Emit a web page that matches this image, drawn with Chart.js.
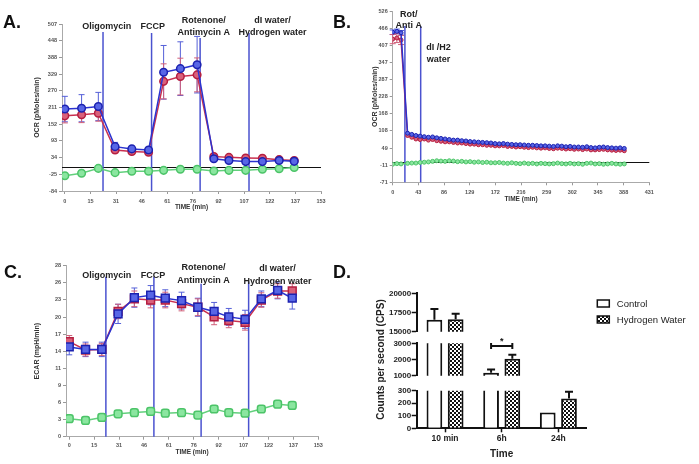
<!DOCTYPE html>
<html>
<head>
<meta charset="utf-8">
<title>OCR / ECAR and CPS</title>
<script src="https://cdn.jsdelivr.net/npm/chart.js@4.4.1/dist/chart.umd.min.js"></script>
<style>
  body { margin: 0; background: #fff; width: 699px; height: 464px; overflow: hidden; position: relative; }
  canvas { position: absolute; }
  .tag { position: absolute; z-index: 5; font: bold 18px "Liberation Sans", Arial, sans-serif; line-height: 18px; color: #111; }
</style>
</head>
<body>
<canvas id="chartA" width="340" height="215" style="left:0;top:0"></canvas>
<canvas id="chartB" width="359" height="215" style="left:340px;top:0"></canvas>
<canvas id="chartC" width="340" height="244" style="left:0;top:220px"></canvas>
<canvas id="chartDTop" width="359" height="194" style="left:340px;top:270px"></canvas>
<canvas id="chartDMid" width="359" height="194" style="left:340px;top:270px"></canvas>
<canvas id="chartDBot" width="359" height="194" style="left:340px;top:270px"></canvas>
<div class="tag" style="left:3px;top:13px">A.</div>
<div class="tag" style="left:333px;top:13px">B.</div>
<div class="tag" style="left:4px;top:263px">C.</div>
<div class="tag" style="left:333px;top:263px">D.</div>
<script>
// ------------ DATA ------------ //

// A. OCR, mito stress test
var timeA = [0, 10, 20, 30, 40, 50, 59, 69, 79, 89, 98, 108, 118, 128, 137];
var ocrBlueA = [206, 209, 215, 73, 65, 61, 336, 349, 363, 30, 24, 20, 20, 24, 21];
var ocrBlueErrA = [45, 48, 50, 15, 10, 8, 95, 95, 100, 6, 6, 6, 5, 5, 5];
var ocrRedA = [182, 186, 191, 61, 56, 53, 304, 321, 327, 38, 35, 33, 32, 27, 24];
var ocrRedErrA = [25, 28, 28, 10, 8, 8, 62, 65, 60, 6, 6, 6, 5, 5, 5];
var ocrGreenA = [-30, -21, -4, -19, -14, -14, -11, -7, -7, -13, -11, -11, -7, -5, -1];
var ocrGreenErrA = [4, 4, 4, 4, 4, 4, 4, 4, 4, 4, 4, 4, 4, 4, 4];
var xTicksA = [0, 15, 31, 46, 61, 76, 92, 107, 122, 137, 153];
var yTicksA = [-84, -25, 34, 93, 152, 211, 270, 329, 388, 448, 507];
var injTimesA = [22.8, 51.8, 80.8, 110];
var injTextA = [['Oligomycin'], ['FCCP'], ['Rotenone/', 'Antimycin A'], ['dI water/', 'Hydrogen water']];

// B. OCR, long run
var timeB = [0, 7, 14, 25, 32, 39, 46, 53, 60, 67, 74, 81, 88, 95, 102, 109, 116, 123, 130, 137,
  144, 151, 158, 165, 172, 179, 186, 193, 200, 207, 214, 221, 228, 235, 242, 249, 256, 263, 270, 277,
  284, 291, 298, 305, 312, 319, 326, 333, 340, 347, 354, 361, 368, 375, 382, 389];
var ocrBlueB = [452, 455, 450, 100, 96, 92, 90, 88, 86, 87, 84, 82, 80, 78, 76, 76, 74, 73, 71, 70,
  69, 68, 67, 66, 64, 63, 64, 62, 61, 60, 60, 59, 58, 58, 57, 56, 56, 55, 54, 56,
  55, 53, 54, 52, 52, 51, 53, 50, 49, 51, 52, 50, 49, 48, 49, 47];
var ocrRedB = [428, 432, 425, 92, 86, 80, 78, 80, 76, 78, 74, 72, 70, 70, 68, 66, 66, 64, 62, 62,
  60, 60, 58, 58, 56, 56, 57, 54, 54, 52, 53, 51, 50, 51, 49, 48, 49, 47, 46, 48,
  47, 45, 46, 44, 45, 43, 45, 42, 42, 43, 44, 42, 41, 40, 41, 39];
var ocrGreenB = [-8, -6, -7, -5, -4, -4, -2, -1, 0, 2, 4, 3, 2, 4, 3, 1, 2, 0, 1, -1,
  0, -2, -1, -3, -3, -2, -4, -5, -3, -5, -6, -4, -6, -5, -7, -5, -6, -7, -6, -4,
  -6, -7, -5, -7, -6, -8, -5, -4, -7, -6, -8, -7, -5, -7, -8, -7];
var ocrBlueErrB = [8, 8, 8];
var ocrRedErrB = [16, 16, 16];
var xTicksB = [0, 43, 86, 129, 172, 216, 259, 302, 345, 388, 431];
var yTicksB = [-71, -11, 49, 108, 168, 228, 287, 347, 407, 466, 526];
var injTimesB = [20.5, 47];
var injTextB = [['Rot/', 'Anti A'], ['dI /H2', 'water']];

// C. ECAR, same run as A
var ecarBlueC = [14.9, 14.5, 14.5, 20.4, 23.1, 23.5, 23.0, 22.6, 21.5, 20.8, 19.9, 19.5, 22.9, 24.3, 23.0];
var ecarBlueErrC = [1.3, 1.2, 1.2, 1.6, 1.6, 1.6, 1.4, 1.4, 1.5, 1.5, 1.4, 1.5, 1.3, 1.4, 1.8];
var ecarRedC = [15.8, 14.4, 14.5, 20.8, 22.9, 22.7, 22.7, 22.1, 21.5, 19.9, 19.3, 19.0, 22.7, 24.2, 24.2];
var ecarRedErrC = [1.0, 1.0, 1.0, 1.2, 1.3, 1.3, 1.3, 1.2, 1.4, 1.3, 1.2, 1.3, 1.2, 1.2, 1.2];
var ecarGreenC = [3.0, 2.7, 3.2, 3.8, 4.0, 4.2, 3.9, 4.0, 3.6, 4.6, 4.0, 3.9, 4.6, 5.4, 5.2];
var ecarGreenErrC = [0.3, 0.3, 0.3, 0.3, 0.3, 0.3, 0.3, 0.3, 0.3, 0.3, 0.3, 0.3, 0.3, 0.3, 0.3];
var yTicksC = [0, 3, 6, 9, 11, 14, 17, 20, 23, 26, 28];
var injTimesC = [22.5, 52, 81, 110.2];

// D. Counts per second
var groupsD = ['10 min', '6h', '24h'];
var seriesD = ['Control', 'Hydrogen Water'];
var controlD = [16540, 1180, 127];
var controlErrD = [1400, 200, 0];
var hydrogenD = [16630, 2040, 238];
var hydrogenErrD = [700, 260, 53];
var segTicksD = [[0, 100, 200, 300], [1000, 2000, 3000], [15000, 17500, 20000]];

// ------------ STYLE ------------ //

var FONT = '"Liberation Sans", Arial, sans-serif';
Chart.defaults.font.family = FONT;
Chart.defaults.color = '#444';

var BLUE = { line: '#2b33cf', fill: '#5866e6', edge: '#1c22b0', err: '#5560d8' };
var RED = { line: '#c9304f', fill: '#d9607a', edge: '#b51e40', err: '#d0607a' };
var GREEN = { line: '#62d07c', fill: '#8be6a0', edge: '#4cc468', err: '#5cc874' };

var tickFont = { size: 5.5, weight: 'bold' };
var titleFont = { size: 7, weight: 'bold' };

function makeChecker() {
    var c = document.createElement('canvas');
    c.width = 4; c.height = 4;
    var g = c.getContext('2d');
    g.fillStyle = '#fff'; g.fillRect(0, 0, 4, 4);
    g.fillStyle = '#111'; g.fillRect(0, 0, 2, 2); g.fillRect(2, 2, 2, 2);
    return g.createPattern(c, 'repeat');
}
var checker = makeChecker();

// ------------ PLUGINS ------------ //

function errorBars() {
    return {
        id: 'errorBars',
        beforeDatasetsDraw: function (chart) {
            var ctx = chart.ctx, ys = chart.scales.y;
            chart.data.datasets.forEach(function (ds, i) {
                if (!ds.errors) return;
                var meta = chart.getDatasetMeta(i);
                ctx.save();
                ctx.strokeStyle = ds.errorColor;
                ctx.lineWidth = 1;
                meta.data.forEach(function (pt, j) {
                    var e = ds.errors[j];
                    if (!e) return;
                    var v = ds.data[j].y;
                    var t = ys.getPixelForValue(v + e), b = ys.getPixelForValue(v - e);
                    ctx.beginPath();
                    ctx.moveTo(pt.x, t); ctx.lineTo(pt.x, b);
                    ctx.moveTo(pt.x - 3, t); ctx.lineTo(pt.x + 3, t);
                    ctx.moveTo(pt.x - 3, b); ctx.lineTo(pt.x + 3, b);
                    ctx.stroke();
                });
                ctx.restore();
            });
        }
    };
}

function zeroLine() {
    return {
        id: 'zeroLine',
        beforeDatasetsDraw: function (chart) {
            var ctx = chart.ctx, a = chart.chartArea;
            var y = Math.round(chart.scales.y.getPixelForValue(0)) + 0.5;
            ctx.save();
            ctx.strokeStyle = '#111';
            ctx.lineWidth = 1;
            ctx.beginPath(); ctx.moveTo(a.left, y); ctx.lineTo(a.right, y); ctx.stroke();
            ctx.restore();
        }
    };
}

// vertical injection lines with their labels
function injections(o) {
    return {
        id: 'injections',
        beforeDatasetsDraw: function (chart) {
            var ctx = chart.ctx, a = chart.chartArea, xs = chart.scales.x;
            ctx.save();
            ctx.strokeStyle = '#4a52cf';
            ctx.lineWidth = 1.5;
            o.times.forEach(function (t, i) {
                var x = xs.getPixelForValue(t);
                ctx.beginPath(); ctx.moveTo(x, a.top + o.lineTop[i]); ctx.lineTo(x, a.bottom); ctx.stroke();
            });
            ctx.restore();
        },
        afterDraw: function (chart) {
            var ctx = chart.ctx, a = chart.chartArea, xs = chart.scales.x;
            ctx.save();
            ctx.fillStyle = '#222';
            ctx.font = 'bold 9px ' + FONT;
            ctx.textAlign = 'center';
            ctx.textBaseline = 'alphabetic';
            o.text.forEach(function (lines, i) {
                var x = xs.getPixelForValue(o.at[i]);
                lines.forEach(function (s, k) {
                    ctx.fillText(s, x, a.top + o.dy[i][k]);
                });
            });
            ctx.restore();
        }
    };
}

function evenTicks(labels, lo, hi) {
    return function (scale) {
        var n = labels.length;
        scale.ticks = labels.map(function (l, i) { return { value: lo + i * (hi - lo) / (n - 1) }; });
    };
}

function series(xs, ys, errs, col, shape, r, bw) {
    return {
        data: xs.map(function (x, i) { return { x: x, y: ys[i] }; }),
        errors: errs,
        errorColor: col.err,
        borderColor: col.line,
        borderWidth: 1.5,
        pointBackgroundColor: col.fill,
        pointBorderColor: col.edge,
        pointBorderWidth: bw,
        pointStyle: shape,
        pointRadius: r,
        tension: 0
    };
}

function traceChart(id, c) {
    return new Chart(document.getElementById(id), {
        type: 'line',
        data: { datasets: c.datasets },
        options: {
            responsive: false,
            animation: false,
            events: [],
            layout: { padding: { left: 0, top: c.top, right: c.right, bottom: 0 } },
            plugins: { legend: { display: false }, tooltip: { enabled: false } },
            scales: {
                x: {
                    type: 'linear', min: c.xMin, max: c.xMax,
                    afterBuildTicks: evenTicks(c.xTicks, c.xTicks[0], c.xTicks[c.xTicks.length - 1]),
                    afterFit: function (s) { s.height = c.xh; },
                    ticks: {
                        autoSkip: false, maxRotation: 0, padding: c.xPad, font: tickFont, color: '#555',
                        callback: function (v, i) { return c.xTicks[i]; }
                    },
                    grid: { drawOnChartArea: false, tickLength: 3, tickColor: '#999' },
                    border: { color: '#aaa' },
                    title: { display: true, text: 'TIME (min)', font: { size: 6.5, weight: 'bold' }, color: '#333', padding: { top: 0, bottom: c.xTitlePad } }
                },
                y: {
                    min: c.yRange[0], max: c.yRange[1],
                    afterBuildTicks: evenTicks(c.yTicks, c.yRange[0], c.yRange[1]),
                    afterFit: function (s) { s.width = c.yw; },
                    ticks: {
                        autoSkip: false, padding: 2, font: tickFont, color: '#555',
                        callback: function (v, i) { return c.yTicks[i]; }
                    },
                    grid: { drawOnChartArea: false, tickLength: 3, tickColor: '#999' },
                    border: { color: '#aaa' },
                    title: { display: true, text: c.yTitle, font: titleFont, color: '#333', padding: { top: c.yTitlePad, bottom: 0 } }
                }
            }
        },
        plugins: (c.zero ? [zeroLine()] : []).concat([errorBars(), injections(c.inj)])
    });
}

// ------------ A. OCR ------------ //

traceChart('chartA', {
    datasets: [
        series(timeA, ocrBlueA, ocrBlueErrA, BLUE, 'circle', 3.8, 1.5),
        series(timeA, ocrRedA, ocrRedErrA, RED, 'circle', 3.8, 1.5),
        series(timeA, ocrGreenA, ocrGreenErrA, GREEN, 'circle', 3.8, 1.5)
    ],
    xMin: -1.7, xMax: 153, xTicks: xTicksA,
    yRange: [-84, 507], yTicks: yTicksA,
    top: 24, right: 19, xh: 24, yw: 62, xPad: 4,
    xTitlePad: 3.6, yTitle: 'OCR (pMoles/min)', yTitlePad: 32.8,
    zero: true,
    inj: {
        times: injTimesA, text: injTextA,
        at: [25, 52.5, 83, 124],
        dy: [[5], [5], [-1, 11], [-1, 11]],
        lineTop: [8, 9, 14, 9]
    }
});

// ------------ B. OCR long run ------------ //

traceChart('chartB', {
    datasets: [
        series(timeB, ocrBlueB, ocrBlueErrB, BLUE, 'circle', 2, 1),
        series(timeB, ocrRedB, ocrRedErrB, RED, 'circle', 2, 1),
        series(timeB, ocrGreenB, null, GREEN, 'circle', 2, 1)
    ],
    xMin: 0, xMax: 431, xTicks: xTicksB,
    yRange: [-71, 526], yTicks: yTicksB,
    top: 11, right: 49.7, xh: 32.7, yw: 52.7, xPad: 3.5,
    xTitlePad: 11.8, yTitle: 'OCR (pMoles/min)', yTitlePad: 30.8,
    zero: true,
    inj: {
        times: injTimesB, text: injTextB,
        at: [27, 77],
        dy: [[6, 17], [39, 51]],
        lineTop: [15, 15]
    }
});

// ------------ C. ECAR ------------ //

traceChart('chartC', {
    datasets: [
        series(timeA, ecarBlueC, ecarBlueErrC, BLUE, 'rect', 5.5, 1.5),
        series(timeA, ecarRedC, ecarRedErrC, RED, 'rect', 5.5, 1.5),
        series(timeA, ecarGreenC, ecarGreenErrC, GREEN, 'rectRounded', 4.5, 1.5)
    ],
    xMin: -2, xMax: 153, xTicks: xTicksA,
    yRange: [0, 28.4], yTicks: yTicksC,
    top: 45.7, right: 21.7, xh: 27.3, yw: 66, xPad: 2.5,
    xTitlePad: 7.5, yTitle: 'ECAR (mpH/min)', yTitlePad: 32.8,
    zero: false,
    inj: {
        times: injTimesC, text: injTextA,
        at: [23, 51.5, 82.5, 128],
        dy: [[12], [12], [4.3, 17], [5, 18]],
        lineTop: [11, 11, 18, 16]
    }
});

// ------------ D. CPS, broken y axis in three segments ------------ //

function upperCaps() {
    return {
        id: 'upperCaps',
        afterDatasetsDraw: function (chart) {
            var ctx = chart.ctx, a = chart.chartArea, ys = chart.scales.y;
            ctx.save();
            ctx.beginPath(); ctx.rect(a.left, a.top - 1, a.right - a.left, a.bottom - a.top + 1); ctx.clip();
            ctx.strokeStyle = '#111';
            ctx.lineWidth = 2;
            chart.data.datasets.forEach(function (ds, i) {
                chart.getDatasetMeta(i).data.forEach(function (bar, j) {
                    var e = ds.up[j];
                    if (!e) return;
                    var y0 = ys.getPixelForValue(ds.data[j]), y1 = ys.getPixelForValue(ds.data[j] + e);
                    ctx.beginPath();
                    ctx.moveTo(bar.x, y0); ctx.lineTo(bar.x, y1);
                    ctx.moveTo(bar.x - 4, y1); ctx.lineTo(bar.x + 4, y1);
                    ctx.stroke();
                });
            });
            ctx.restore();
        }
    };
}

function signifBracket(group, value) {
    return {
        id: 'signif',
        afterDatasetsDraw: function (chart) {
            var ctx = chart.ctx;
            var x0 = chart.getDatasetMeta(0).data[group].x;
            var x1 = chart.getDatasetMeta(1).data[group].x;
            var y = chart.scales.y.getPixelForValue(value);
            ctx.save();
            ctx.strokeStyle = '#111';
            ctx.lineWidth = 2;
            ctx.beginPath();
            ctx.moveTo(x0, y); ctx.lineTo(x1, y);
            ctx.moveTo(x0, y - 3); ctx.lineTo(x0, y + 3);
            ctx.moveTo(x1, y - 3); ctx.lineTo(x1, y + 3);
            ctx.stroke();
            ctx.fillStyle = '#111';
            ctx.font = 'bold 9px ' + FONT;
            ctx.textAlign = 'center';
            ctx.textBaseline = 'middle';
            ctx.fillText('*', (x0 + x1) / 2, y - 5);
            ctx.restore();
        }
    };
}

function legendD(o) {
    return {
        id: 'legendD',
        afterDraw: function (chart) {
            var ctx = chart.ctx;
            ctx.save();
            chart.data.datasets.forEach(function (ds, i) {
                var y = o.y + i * o.gap;
                ctx.fillStyle = ds.backgroundColor;
                ctx.fillRect(o.x, y, o.w, o.h);
                ctx.strokeStyle = '#111';
                ctx.lineWidth = 1.5;
                ctx.strokeRect(o.x, y, o.w, o.h);
                ctx.fillStyle = '#222';
                ctx.font = '9.5px ' + FONT;
                ctx.textAlign = 'left';
                ctx.textBaseline = 'middle';
                ctx.fillText(ds.label, o.x + o.w + 7.5, y + o.h / 2 + 0.5);
            });
            ctx.restore();
        }
    };
}

function segmentChart(id, k, s) {
    var ticks = segTicksD[k];
    var bar = { borderColor: '#111', borderWidth: 2, clip: 0, categoryPercentage: 0.75, barPercentage: 0.74 };
    return new Chart(document.getElementById(id), {
        type: 'bar',
        data: {
            labels: groupsD,
            datasets: [
                Object.assign({ label: seriesD[0], data: controlD, up: controlErrD, backgroundColor: '#fff' }, bar),
                Object.assign({ label: seriesD[1], data: hydrogenD, up: hydrogenErrD, backgroundColor: checker }, bar)
            ]
        },
        options: {
            responsive: false,
            animation: false,
            events: [],
            layout: { padding: { left: 0, right: 112.3, top: s.top, bottom: s.bottom } },
            plugins: { legend: { display: false }, tooltip: { enabled: false } },
            scales: {
                x: {
                    display: s.showX,
                    afterFit: function (sc) { if (s.showX) sc.height = 35.7; },
                    grid: { offset: false, drawOnChartArea: false, tickLength: 4, tickColor: '#111', tickWidth: 1.5 },
                    border: { color: '#111', width: 2 },
                    ticks: { padding: 1, font: { size: 8.5, weight: 'bold' }, color: '#222' },
                    title: { display: true, text: 'Time', font: { size: 10, weight: 'bold' }, color: '#222', padding: { top: 0, bottom: 4 } }
                },
                y: {
                    min: ticks[0], max: ticks[ticks.length - 1],
                    afterBuildTicks: function (sc) { sc.ticks = ticks.map(function (v) { return { value: v }; }); },
                    afterFit: function (sc) { sc.width = 76.7; },
                    ticks: {
                        autoSkip: false, padding: 0.5, font: { size: 8, weight: 'bold' }, color: '#222',
                        callback: function (v) { return String(v); }
                    },
                    grid: { drawOnChartArea: false, tickLength: 5, tickColor: '#111', tickWidth: 1.5 },
                    border: { color: '#111', width: 2 },
                    title: {
                        display: !!s.yTitle, text: s.yTitle || '',
                        font: { size: 10, weight: 'bold' }, color: '#222',
                        padding: { top: 35, bottom: 0 }
                    }
                }
            }
        },
        plugins: [upperCaps()].concat(s.plugins || [])
    });
}

segmentChart('chartDTop', 2, {
    top: 23.3, bottom: 132.3, showX: false,
    plugins: [legendD({ x: 257.3, y: 30, w: 12, h: 7, gap: 16 })]
});
segmentChart('chartDMid', 1, {
    top: 73.3, bottom: 88.3, showX: false,
    yTitle: 'Counts per second (CPS)',
    plugins: [signifBracket(1, 2830)]
});
segmentChart('chartDBot', 0, {
    top: 120.7, bottom: 0, showX: true
});
</script>
</body>
</html>
